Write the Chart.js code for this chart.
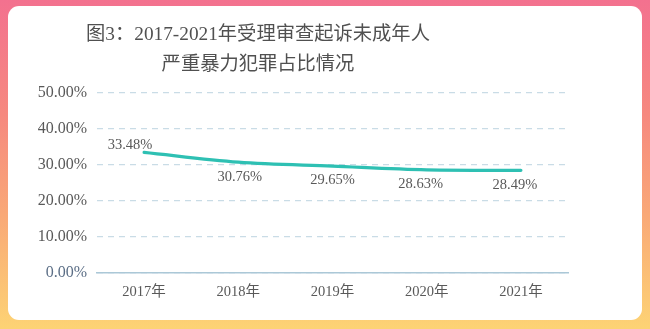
<!DOCTYPE html>
<html>
<head>
<meta charset="utf-8">
<script src="https://cdn.jsdelivr.net/npm/chart.js@4.4.0/dist/chart.umd.min.js"></script>
<style>
  html, body { margin: 0; padding: 0; }
  body {
    width: 650px; height: 329px; overflow: hidden; position: relative;
    background: linear-gradient(180deg, #f3718f 0%, #f6897f 35%, #f9a877 65%, #fdd374 100%);
  }
  #panel {
    position: absolute; left: 8px; top: 6px; width: 634px; height: 314px;
    background: #ffffff; border-radius: 11px;
  }
  #wrap { position: absolute; left: -52px; top: 0; width: 702px; height: 329px; }
</style>
</head>
<body>
<div id="panel"></div>
<div id="wrap"><canvas id="c" width="702" height="329"></canvas></div>
<script>
const titleLines = ['图3：2017-2021年受理审查起诉未成年人', '严重暴力犯罪占比情况'];
const categories = ['2017年', '2018年', '2019年', '2020年', '2021年'];
const shares = [33.48, 30.76, 29.65, 28.63, 28.49];
const yTicks = [0, 10, 20, 30, 40, 50];

const FONT = '"Liberation Serif", "Times New Roman", "Noto Sans CJK SC", serif';

const labelPlugin = {
  id: 'pointLabels',
  afterDatasetsDraw(chart, args, opts) {
    const ctx = chart.ctx;
    const meta = chart.getDatasetMeta(0);
    ctx.save();
    ctx.font = '14.5px ' + FONT;
    ctx.fillStyle = '#595959';
    ctx.textAlign = 'center';
    ctx.textBaseline = 'middle';
    meta.data.forEach((pt, i) => {
      const off = opts.offsets[i];
      ctx.fillText(shares[i].toFixed(2) + '%', pt.x + off[0], pt.y + off[1]);
    });
    ctx.restore();
  }
};

new Chart(document.getElementById('c'), {
  type: 'line',
  data: {
    labels: categories,
    datasets: [{
      data: shares,
      borderColor: '#2ec0b3',
      borderWidth: 3.2,
      pointRadius: 0,
      pointHoverRadius: 0,
      fill: false,
      cubicInterpolationMode: 'monotone',
      borderCapStyle: 'round'
    }]
  },
  options: {
    responsive: false,
    animation: false,
    events: [],
    layout: { padding: { left: 0, right: 82, top: 0, bottom: 0 } },
    plugins: {
      legend: { display: false },
      tooltip: { enabled: false },
      title: {
        display: true,
        text: titleLines,
        color: '#505050',
        font: { family: FONT, size: 19.3, weight: 'normal', lineHeight: 1.55 },
        padding: { top: 20, bottom: 13 }
      },
      pointLabels: {
        offsets: [[-14, -7.5], [1.5, 15.5], [0, 14.5], [-6, 14.5], [-6, 14.5]]
      }
    },
    scales: {
      x: {
        offset: true,
        grid: { display: false, drawTicks: false },
        border: { display: true, color: '#abc8d7', width: 1.5 },
        ticks: { color: '#595959', padding: 10, font: { family: FONT, size: 14.5 } },
        afterFit(scale) { scale.height = 56; }
      },
      y: {
        min: 0,
        max: 50,
        afterBuildTicks(scale) { scale.ticks = yTicks.map(v => ({ value: v })); },
        grid: { color: '#c9dce6', lineWidth: 1.3, drawTicks: false },
        border: { display: false, dash: [6, 5] },
        ticks: {
          padding: 10,
          color: (c) => c.tick && c.tick.value === 0 ? '#5b6e86' : '#595959',
          font: { family: FONT, size: 16 },
          callback: (v) => Number(v).toFixed(2) + '%'
        },
        afterFit(scale) { scale.width = 149; }
      }
    }
  },
  plugins: [labelPlugin]
});
</script>
</body>
</html>
